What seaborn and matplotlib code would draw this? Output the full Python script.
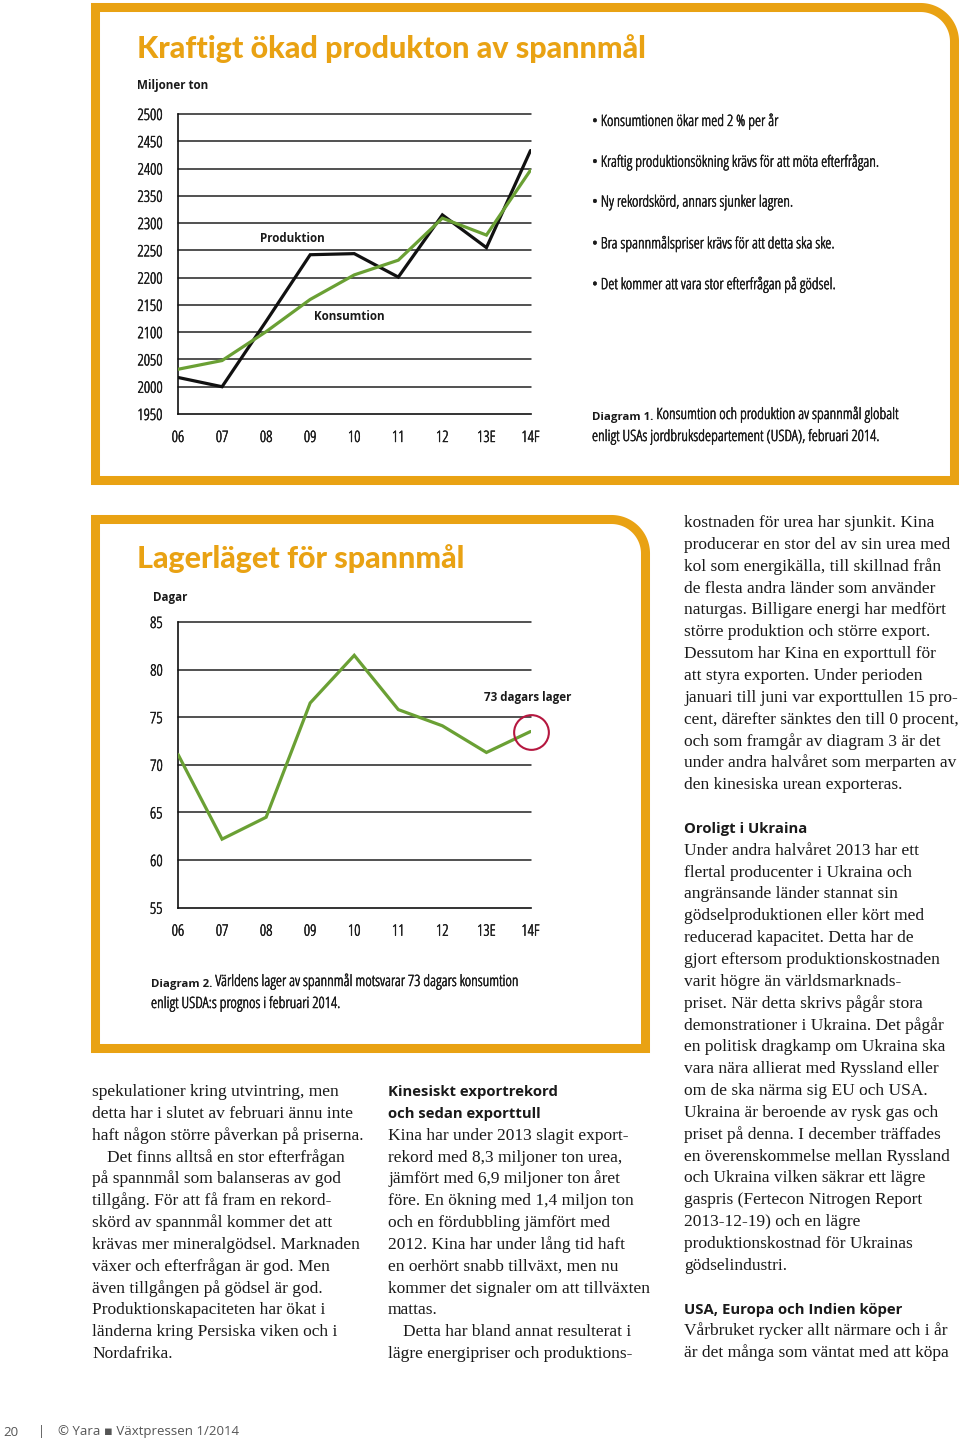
import numpy as np
import pandas as pd
import seaborn as sns
import matplotlib.pyplot as plt
from matplotlib import font_manager as fm
from matplotlib import patheffects as pe
from matplotlib.path import Path
from matplotlib.patches import PathPatch

# --- data ---
years = ['06', '07', '08', '09', '10', '11', '12', '13E', '14F']
produktion = [2017, 2000, 2120, 2242, 2244, 2201, 2315, 2255, 2433]
konsumtion = [2032, 2048, 2101, 2160, 2205, 2232, 2309, 2278, 2397]
lager_dagar = [71.1, 62.2, 64.5, 76.5, 81.5, 75.8, 74.1, 71.3, 73.5]
ticks_ton = list(range(1950, 2501, 50))
ticks_dagar = list(range(55, 86, 5))

bullets = [
    'Konsumtionen ökar med 2 % per år',
    'Kraftig produktionsökning krävs för att möta efterfrågan.',
    'Ny rekordskörd, annars sjunker lagren.',
    'Bra spannmålspriser krävs för att detta ska ske.',
    'Det kommer att vara stor efterfrågan på gödsel.',
]

ORANGE = '#E9A213'
GREEN = '#6AA034'
RED = '#B5173F'
INK = '#1a1a1a'

sns.set_style('white')
SERIF = 'Liberation Serif'
ROUND = 'Lato'
plt.rcParams['font.family'] = ['Liberation Sans', 'DejaVu Sans']

# condensed sans faces, if installed (the layout uses a condensed face)
PREFER = ['Noto Sans', 'Open Sans', 'Roboto', 'DejaVu Sans', 'Liberation Sans']


def weight_of(f):
    if isinstance(f.weight, (int, float)):
        return f.weight
    return fm.weight_dict.get(f.weight, 400)


cond = [f for f in fm.fontManager.ttflist if 'condensed' in str(f.stretch)]
NARROW = next((n for n in PREFER if n in {f.name for f in cond}), None)


def narrow_face(weight, lo, hi, fallback):
    # best condensed face of NARROW for this weight, else a plain fallback
    if NARROW:
        path = fm.findfont(fm.FontProperties(family=NARROW, stretch='condensed',
                                             weight=weight))
        hit = [f for f in fm.fontManager.ttflist if f.fname == path]
        w = weight_of(hit[0]) if hit else weight
        if lo <= w <= hi:
            return fm.FontProperties(fname=path), w
    return fallback, weight


REG, reg_w = narrow_face(400, 0, 599, fm.FontProperties(family='Liberation Sans'))
BOLD, _ = narrow_face(700, 600, 950,
                      fm.FontProperties(family='Liberation Sans', weight='bold'))

# a light face gets a hairline stroke so it reads like a regular weight
THICK = [pe.withStroke(linewidth=0.35, foreground=INK)] if reg_w < 350 else []

W, H = 960, 1443
fig = plt.figure(figsize=(W / 100, H / 100), dpi=100)
fig.patch.set_facecolor('white')

# page layer in pixel coordinates (y downwards)
page = fig.add_axes([0, 0, 1, 1])
page.set_xlim(0, W)
page.set_ylim(H, 0)
page.axis('off')

renderer = fig.canvas.get_renderer()


def F(fp, size):
    p = fp.copy()
    p.set_size(size)
    return p


def fit(sample, target, fp):
    # font size (pt) that makes `sample` about `target` pixels wide
    t = page.text(0, 0, sample, fontproperties=F(fp, 10))
    w = t.get_window_extent(renderer=renderer).width
    t.remove()
    return 10 * target / w


TITLE = fm.FontProperties(family=ROUND, weight='black')
FOOT = fm.FontProperties(family=['Open Sans', 'DejaVu Sans'])

S_TITLE = fit('Kraftigt ökad produkton av spannmål', 508, TITLE)
S_TEXT = fit('• Kraftig produktionsökning krävs för att möta efterfrågan.', 290, REG)
S_CAPB = fit('Diagram 2.', 61, BOLD)
S_LABEL = fit('73 dagars lager', 88, BOLD)
S_TICK = fit('2500', 25, REG)
S_HEAD = fit('USA, Europa och Indien köper', 219, BOLD)
S_FOOT = fit('© Yara ▪ Växtpressen 1/2014', 181, FOOT)


def frame(x0, y0, x1, y1, r):
    t = np.linspace(np.pi / 2, 0, 40)
    arc = np.column_stack([x1 - r + r * np.cos(t), y0 + r - r * np.sin(t)])
    verts = [(x0, y1), (x0, y0)] + [tuple(p) for p in arc] + [(x1, y1), (x0, y1)]
    page.add_patch(PathPatch(Path(verts, closed=True), fill=False, ec=ORANGE,
                             lw=6.5, joinstyle='miter', capstyle='projecting'))


frame(95.5, 7.5, 954.5, 480.5, 34)
frame(95.5, 519.5, 645.5, 1048.5, 34)


def px_axes(x0, y0, x1, y1):
    return fig.add_axes([x0 / W, 1 - y1 / H, (x1 - x0) / W, (y1 - y0) / H])


def style_axes(ax, ticks, lo, hi):
    ax.set_facecolor('none')
    ax.set_xlim(0, len(years) - 1)
    ax.set_ylim(lo, hi)
    for v in ticks[1:]:
        ax.axhline(v, color='#222222', lw=1.1, clip_on=False, zorder=1)
    for s in ['top', 'right']:
        ax.spines[s].set_visible(False)
    for s in ['left', 'bottom']:
        ax.spines[s].set_color('#111111')
        ax.spines[s].set_linewidth(1.2)
    ax.set_yticks(ticks)
    ax.set_yticklabels([str(v) for v in ticks], fontproperties=F(REG, S_TICK), color=INK)
    ax.set_xticks(range(len(years)))
    ax.set_xticklabels(years, fontproperties=F(REG, S_TICK), color=INK)
    for lbl in ax.get_xticklabels() + ax.get_yticklabels():
        lbl.set_path_effects(THICK)
    ax.tick_params(axis='y', length=0, pad=11)
    ax.tick_params(axis='x', length=0, pad=11.5)
    ax.set_xlabel('')
    ax.set_ylabel('')


# --- Diagram 1 ---
ax1 = px_axes(178, 114, 530.5, 414)
df1 = pd.DataFrame({'pos': range(len(years)), 'Produktion': produktion,
                    'Konsumtion': konsumtion})
long1 = df1.melt(id_vars='pos', var_name='serie', value_name='ton')
sns.lineplot(data=long1, x='pos', y='ton', hue='serie',
             hue_order=['Produktion', 'Konsumtion'],
             palette={'Produktion': '#111111', 'Konsumtion': GREEN},
             linewidth=2.3, legend=False, ax=ax1, zorder=3,
             solid_joinstyle='miter')
style_axes(ax1, ticks_ton, 1950, 2500)

# --- Diagram 2 ---
ax2 = px_axes(178, 622, 530.5, 907.7)
df2 = pd.DataFrame({'pos': range(len(years)), 'dagar': lager_dagar})
sns.lineplot(data=df2, x='pos', y='dagar', color=GREEN, linewidth=2.3,
             ax=ax2, zorder=3, solid_joinstyle='miter')
ax2.plot([len(years) - 1], [lager_dagar[-1]], 'o', ms=25, mfc='none',
         mec=RED, mew=1.5, clip_on=False, zorder=4)
style_axes(ax2, ticks_dagar, 55, 85)

# --- titles and chart texts ---
page.text(137, 58, 'Kraftigt ökad produkton av spannmål', fontproperties=F(TITLE, S_TITLE),
          color=ORANGE, va='baseline')
page.text(137, 568, 'Lagerläget för spannmål', fontproperties=F(TITLE, S_TITLE),
          color=ORANGE, va='baseline')
lab = F(BOLD, S_LABEL)
page.text(137, 86, 'Miljoner ton', fontproperties=lab, color=INK, va='center')
page.text(153, 597, 'Dagar', fontproperties=lab, color=INK, va='center')
page.text(260, 238, 'Produktion', fontproperties=lab, color=INK, va='center')
page.text(314, 317, 'Konsumtion', fontproperties=lab, color=INK, va='center')
page.text(484, 698, '73 dagars lager', fontproperties=lab, color=INK, va='center')

for i, b in enumerate(bullets):
    page.text(592, 121 + i * 40.8, '• ' + b, fontproperties=F(REG, S_TEXT), color=INK,
              va='center', path_effects=THICK)


def caption(x, y, head, rest, line2):
    t = page.text(x, y, head, fontproperties=F(BOLD, S_CAPB), color=INK, va='baseline')
    page.annotate(' ' + rest, xy=(1, 0), xycoords=t, va='bottom', color=INK,
                  fontproperties=F(REG, S_TEXT), path_effects=THICK)
    page.text(x, y + 21, line2, fontproperties=F(REG, S_TEXT), color=INK, va='baseline',
              path_effects=THICK)


caption(592, 420, 'Diagram 1.', 'Konsumtion och produktion av spannmål globalt',
        'enligt USAs jordbruksdepartement (USDA), februari 2014.')
caption(151, 987, 'Diagram 2.', 'Världens lager av spannmål motsvarar 73 dagars konsumtion',
        'enligt USDA:s prognos i februari 2014.')

# --- running text ---
left_col = [
    'spekulationer kring utvintring, men',
    'detta har i slutet av februari ännu inte',
    'haft någon större påverkan på priserna.',
    '>Det finns alltså en stor efterfrågan',
    'på spannmål som balanseras av god',
    'tillgång. För att få fram en rekord-',
    'skörd av spannmål kommer det att',
    'krävas mer mineralgödsel. Marknaden',
    'växer och efterfrågan är god. Men',
    'även tillgången på gödsel är god.',
    'Produktionskapaciteten har ökat i',
    'länderna kring Persiska viken och i',
    'Nordafrika.',
]
mid_col = [
    '#Kinesiskt exportrekord',
    '#och sedan exporttull',
    'Kina har under 2013 slagit export-',
    'rekord med 8,3 miljoner ton urea,',
    'jämfört med 6,9 miljoner ton året',
    'före. En ökning med 1,4 miljon ton',
    'och en fördubbling jämfört med',
    '2012. Kina har under lång tid haft',
    'en oerhört snabb tillväxt, men nu',
    'kommer det signaler om att tillväxten',
    'mattas.',
    '>Detta har bland annat resulterat i',
    'lägre energipriser och produktions-',
]
right_col = [
    'kostnaden för urea har sjunkit. Kina',
    'producerar en stor del av sin urea med',
    'kol som energikälla, till skillnad från',
    'de flesta andra länder som använder',
    'naturgas. Billigare energi har medfört',
    'större produktion och större export.',
    'Dessutom har Kina en exporttull för',
    'att styra exporten. Under perioden',
    'januari till juni var exporttullen 15 pro-',
    'cent, därefter sänktes den till 0 procent,',
    'och som framgår av diagram 3 är det',
    'under andra halvåret som merparten av',
    'den kinesiska urean exporteras.',
    '',
    '#Oroligt i Ukraina',
    'Under andra halvåret 2013 har ett',
    'flertal producenter i Ukraina och',
    'angränsande länder stannat sin',
    'gödselproduktionen eller kört med',
    'reducerad kapacitet. Detta har de',
    'gjort eftersom produktionskostnaden',
    'varit högre än världsmarknads-',
    'priset. När detta skrivs pågår stora',
    'demonstrationer i Ukraina. Det pågår',
    'en politisk dragkamp om Ukraina ska',
    'vara nära allierat med Ryssland eller',
    'om de ska närma sig EU och USA.',
    'Ukraina är beroende av rysk gas och',
    'priset på denna. I december träffades',
    'en överenskommelse mellan Ryssland',
    'och Ukraina vilken säkrar ett lägre',
    'gaspris (Fertecon Nitrogen Report',
    '2013-12-19) och en lägre',
    'produktionskostnad för Ukrainas',
    'gödselindustri.',
    '',
    '#USA, Europa och Indien köper',
    'Vårbruket rycker allt närmare och i år',
    'är det många som väntat med att köpa',
]


def column(x, y, lines, step=21.85):
    # '#' = bold sans heading, '>' = indented first line
    for i, line in enumerate(lines):
        yy = y + i * step + 5
        if line.startswith('#'):
            page.text(x, yy, line[1:], fontproperties=F(BOLD, S_HEAD), color=INK,
                      va='baseline')
        elif line.startswith('>'):
            page.text(x + 15, yy, line[1:], family=SERIF, size=12.5, color=INK,
                      va='baseline')
        elif line:
            page.text(x, yy, line, family=SERIF, size=12.5, color=INK, va='baseline')


column(92, 1091, left_col)
column(388, 1091, mid_col)
column(684, 522, right_col)

# --- footer ---
for x, s in [(3, '20'), (38, '|'), (58, '© Yara ▪ Växtpressen 1/2014')]:
    page.text(x, 1432, s, fontproperties=F(FOOT, S_FOOT), color='#555555', va='center')

fig.savefig('out.png', dpi=100, facecolor='white')
